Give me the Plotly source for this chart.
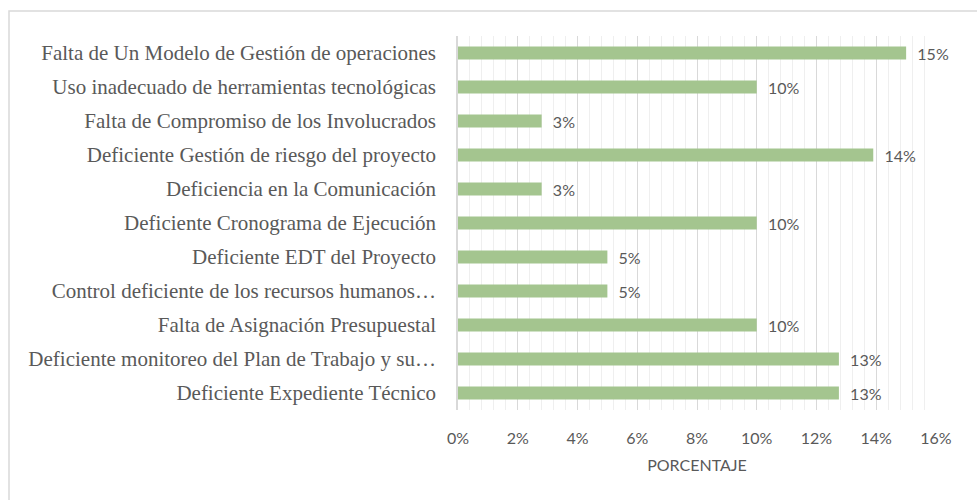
import plotly.graph_objects as go

categories = [
    "Falta de Un Modelo de Gestión de operaciones",
    "Uso inadecuado de herramientas tecnológicas",
    "Falta de Compromiso de los Involucrados",
    "Deficiente Gestión de riesgo del proyecto",
    "Deficiencia en la Comunicación",
    "Deficiente Cronograma de Ejecución",
    "Deficiente EDT del Proyecto",
    "Control deficiente de los recursos humanos…",
    "Falta de Asignación Presupuestal",
    "Deficiente monitoreo del Plan de Trabajo y su…",
    "Deficiente Expediente Técnico",
]
values = [0.15, 0.10, 0.028, 0.139, 0.028, 0.10, 0.05, 0.05, 0.10, 0.1275, 0.1275]
tick_vals = [0, 0.02, 0.04, 0.06, 0.08, 0.10, 0.12, 0.14, 0.16]
tick_text = ["0%", "2%", "4%", "6%", "8%", "10%", "12%", "14%", "16%"]
x_title = "PORCENTAJE"

W, H = 977, 500
ml, mr, mt, mb = 458, 41, 36, 90
SANS = "Lato, Open Sans, sans-serif"
GREY = "#595959"

fig = go.Figure()
fig.add_trace(go.Bar(
    y=categories,
    x=values,
    orientation="h",
    marker=dict(color="#a4c58f", line=dict(width=0)),
    texttemplate="\u00a0\u00a0%{x:.0%}",
    textposition="outside",
    constraintext="none",
    cliponaxis=False,
    textfont=dict(family=SANS, size=16, color=GREY),
    hoverinfo="skip",
))

pw = W - ml - mr
ph = H - mt - mb
def px2paper_x(p):
    return (p - ml) / pw
def py2paper_y(p):
    return 1 - (p - mt) / ph

fig.add_shape(type="rect", xref="paper", yref="paper",
              x0=px2paper_x(9), x1=px2paper_x(995),
              y0=py2paper_y(520), y1=py2paper_y(11),
              line=dict(color="#d9d9d9", width=1.5), fillcolor="rgba(0,0,0,0)",
              layer="below")

fig.update_layout(
    width=W, height=H,
    margin=dict(l=ml, r=mr, t=mt, b=mb),
    paper_bgcolor="white", plot_bgcolor="white",
    bargap=0.62,
    showlegend=False,
    xaxis=dict(
        range=[0, 0.16],
        tickvals=tick_vals, ticktext=tick_text,
        showgrid=True, gridcolor="#d9d9d9", gridwidth=1,
        minor=dict(dtick=0.004, showgrid=True, gridcolor="#efefef", gridwidth=1),
        zeroline=False, showline=False,
        ticks="", ticklabelstandoff=17,
        tickfont=dict(family=SANS, size=16, color=GREY),
        title=dict(text=x_title, standoff=13,
                   font=dict(family=SANS, size=16, color=GREY)),
        fixedrange=True,
    ),
    yaxis=dict(
        categoryorder="array", categoryarray=categories[::-1],
        showgrid=False, showline=True, linecolor="#d9d9d9", linewidth=1.5,
        ticks="", ticklabelstandoff=16,
        tickfont=dict(family="Liberation Serif, Times New Roman, serif", size=21, color=GREY),
        fixedrange=True,
    ),
)

fig.write_html("out.html", config={"displayModeBar": False},
               post_script="document.body.style.margin='0';")
